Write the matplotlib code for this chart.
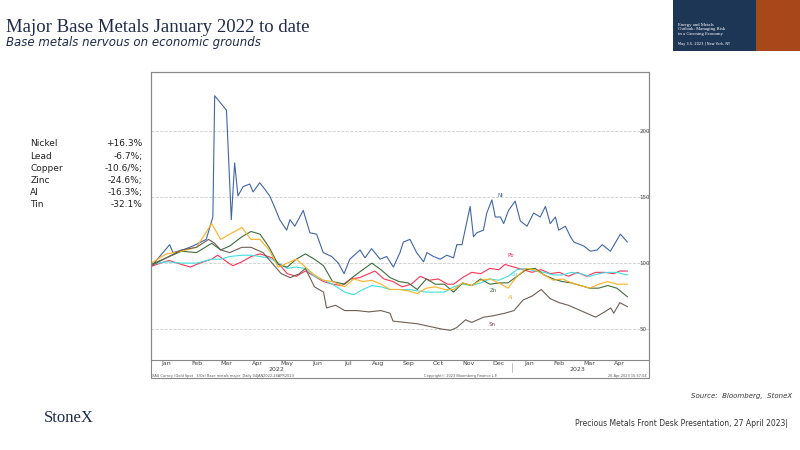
import matplotlib.pyplot as plt
import matplotlib.patches as patches

# x in months since 1 Jan 2022, values rebased to 100
ni_x = [0.0, 0.28, 0.61, 0.72, 1.05, 1.38, 1.82, 2.04, 2.10, 2.49, 2.65, 2.76, 2.87, 3.04, 3.26, 3.37,
        3.59, 3.76, 3.92, 4.09, 4.25, 4.48, 4.59, 4.75, 5.03, 5.25, 5.47, 5.69, 5.97, 6.19, 6.38, 6.57,
        6.91, 7.07, 7.29, 7.57, 7.79, 8.01, 8.23, 8.34, 8.56, 8.78, 9.01, 9.12, 9.34, 9.56, 9.78, 10.0,
        10.11, 10.28, 10.55, 10.66, 10.77, 10.99, 11.10, 11.27, 11.38, 11.55, 11.66, 11.82, 12.04, 12.21,
        12.43, 12.65, 12.87, 13.04, 13.20, 13.37, 13.48, 13.70, 13.87, 13.98, 14.31, 14.53, 14.75, 14.92,
        15.19, 15.52, 15.75]
ni_y = [97.5, 105, 114, 108, 110, 113, 118, 135, 227, 216, 133, 176, 151, 158, 160, 154,
        161, 156, 151, 142, 133, 125, 133, 128, 140, 123, 122, 108, 105, 100, 92, 103,
        110, 104, 111, 103, 105, 97, 108, 116, 118, 108, 101, 108, 105, 103, 106, 104,
        114, 114, 143, 120, 123, 125, 138, 148, 135, 135, 130, 140, 147, 132,
        128, 138, 135, 143, 130, 135, 125, 128, 120, 116, 113, 109, 110, 114,
        109, 122, 116]

pb_x = [0, 0.3, 0.6, 1.0, 1.3, 1.6, 2.0, 2.2, 2.5, 2.7, 3.0, 3.3, 3.6, 4.0, 4.2, 4.5, 4.8, 5.1, 5.4,
        5.7, 6.0, 6.3, 6.6, 6.9, 7.2, 7.4, 7.7, 8.0, 8.3, 8.6, 8.9, 9.2, 9.5, 9.8, 10.0, 10.3, 10.6,
        10.9, 11.2, 11.5, 11.7, 12.0, 12.3, 12.6, 12.9, 13.2, 13.5, 13.8, 14.1, 14.4, 14.7, 15.0, 15.3,
        15.5, 15.75]
pb_y = [97.5, 100, 102, 99, 97, 100, 103, 106, 101, 98, 101, 105, 107, 104, 100, 92, 90, 94, 90,
        86, 84, 83, 88, 89, 92, 94, 88, 86, 82, 84, 90, 87, 88, 84, 84, 89, 93,
        92, 96, 95, 99, 97, 95, 93, 95, 92, 93, 90, 93, 90, 93, 93, 92,
        94, 94]

std_x = [0, 0.5, 1.0, 1.5, 2.0, 2.3, 2.6, 3.0, 3.3, 3.6, 3.9, 4.2, 4.5, 4.8, 5.1, 5.4, 5.7, 6.0,
         6.4, 6.7, 7.0, 7.3, 7.6, 7.9, 8.2, 8.5, 8.8, 9.1, 9.4, 9.7, 10.0, 10.3, 10.6, 10.9, 11.2,
         11.5, 11.8, 12.1, 12.4, 12.7, 13.0, 13.3, 13.6, 13.9, 14.2, 14.5, 14.8, 15.1, 15.4, 15.75]
cu_y = [99, 101, 100, 100, 103, 103, 105, 106, 106, 105, 104, 100, 96, 97, 96, 90, 87, 84,
        78, 76, 80, 83, 82, 80, 80, 80, 79, 78, 78, 78, 82, 84, 83, 85, 88,
        87, 90, 95, 96, 94, 93, 91, 91, 93, 92, 90, 92, 93, 93, 91]
zn_y = [99, 104, 109, 108, 115, 110, 113, 120, 124, 122, 112, 99, 97, 103, 107, 103, 98, 86,
        84, 90, 95, 100, 95, 89, 86, 85, 80, 88, 84, 84, 78, 85, 83, 88, 84,
        85, 85, 90, 95, 96, 91, 88, 86, 85, 83, 81, 81, 83, 81, 74.5]
al_y = [100, 107, 109, 112, 130, 118, 122, 127, 118, 118, 110, 97, 100, 103, 97, 91, 87, 86,
        82, 88, 86, 87, 84, 80, 80, 79, 77, 81, 82, 80, 80, 85, 83, 87, 88,
        85, 81, 90, 96, 95, 91, 87, 88, 85, 83, 81, 84, 86, 84, 84]

sn_x = [0, 0.5, 1.0, 1.5, 1.9, 2.1, 2.3, 2.6, 3.0, 3.3, 3.7, 4.0, 4.3, 4.6, 4.9, 5.1, 5.4, 5.7, 5.8,
        6.1, 6.4, 6.8, 7.2, 7.6, 7.9, 8.0, 8.4, 8.8, 9.2, 9.6, 9.9, 10.1, 10.4, 10.6, 11.0, 11.3, 11.7,
        12.0, 12.3, 12.6, 12.9, 13.2, 13.5, 13.8, 14.1, 14.4, 14.7, 15.0, 15.2, 15.3, 15.5, 15.75]
sn_y = [98, 104, 110, 112, 118, 115, 110, 108, 112, 112, 108, 100, 92, 89, 92, 96, 82, 78, 66,
        68, 64, 64, 63, 64, 62, 56, 55, 54, 52, 50, 49, 51, 57, 55, 59, 60, 62,
        64, 72, 75, 80, 73, 70, 68, 65, 62, 59, 63, 66, 62, 70, 67]

months = ['Jan', 'Feb', 'Mar', 'Apr', 'May', 'Jun', 'Jul', 'Aug', 'Sep', 'Oct', 'Nov', 'Dec',
          'Jan', 'Feb', 'Mar', 'Apr']
perf_names = ['Nickel', 'Lead', 'Copper', 'Zinc', 'Al', 'Tin']
perf_vals = ['+16.3%', '-6.7%;', '-10.6/%;', '-24.6%;', '-16.3%;', '-32.1%']

fig = plt.figure(figsize=(8, 4.5), dpi=100)
fig.patch.set_facecolor('white')

# chart border incl. footer strip
fig.add_artist(patches.Rectangle((0.189, 0.16), 0.622, 0.68, transform=fig.transFigure,
                                 fill=False, edgecolor='#888888', lw=0.8))

ax = fig.add_axes([0.189, 0.2, 0.622, 0.64])
ax.plot(ni_x, ni_y, color='#3f66a8', lw=0.8)
ax.plot(pb_x, pb_y, color='#ff3355', lw=0.8)
ax.plot(std_x, cu_y, color='#40e0e0', lw=0.8)
ax.plot(std_x, zn_y, color='#3d6e3a', lw=0.8)
ax.plot(std_x, al_y, color='#ffb020', lw=0.8)
ax.plot(sn_x, sn_y, color='#6e5f55', lw=0.8)
ax.set_xlim(0, 16.46)
ax.set_ylim(26.5, 245)
for v in [50, 100, 150, 200]:
    ax.axhline(v, color='#cccccc', lw=0.6, ls='--', zorder=0)
    ax.text(16.15, v, str(v), fontsize=4, va='center', ha='left', color='#444444')
ax.set_yticks([])
ax.set_xticks([i + 0.5 for i in range(len(months))])
ax.set_xticklabels(months, fontsize=4.5, color='#444444')
ax.tick_params(axis='x', length=0, pad=1)
for s in ax.spines.values():
    s.set_color('#888888')
    s.set_linewidth(0.8)

for name, x, y, c in [('Ni', 11.45, 150, '#3f66a8'), ('Pb', 11.8, 105, '#ff3355'),
                      ('Cu', 11.9, 90, '#40e0e0'), ('Zn', 11.2, 78, '#3d6e3a'),
                      ('Al', 11.8, 72.5, '#ffb020'), ('Sn', 11.15, 52, '#8a4040')]:
    ax.text(x, y, name, fontsize=4, color=c)

fig.text(0.346, 0.175, '2022', fontsize=4.5, color='#444444', ha='center')
fig.text(0.722, 0.175, '2023', fontsize=4.5, color='#444444', ha='center')
fig.add_artist(plt.Line2D([0.64, 0.64], [0.174, 0.194], transform=fig.transFigure,
                          color='#aaaaaa', lw=0.5))
fig.text(0.19, 0.163, 'XAU Curncy (Gold Spot   $/Oz) Base metals major  Daily 04JAN2022-26APR2023',
         fontsize=2.5, color='#555555')
fig.text(0.53, 0.163, 'Copyright\u00a9 2023 Bloomberg Finance L.P.', fontsize=2.5, color='#555555')
fig.text(0.808, 0.163, '26-Apr-2023 15:57:04', fontsize=2.5, color='#555555', ha='right')

# title block
fig.text(0.008, 0.94, 'Major Base Metals January 2022 to date', fontsize=13.5, family='Liberation Serif',
         color='#1f2a4d', va='center')
fig.text(0.008, 0.905, 'Base metals nervous on economic grounds', fontsize=8.5, style='italic',
         color='#1f2a4d', va='center')

# performance list
for i, (n, v) in enumerate(zip(perf_names, perf_vals)):
    y = 0.68 - i * 0.027
    fig.text(0.038, y, n, fontsize=6.5, color='#222222', va='center')
    fig.text(0.178, y, v, fontsize=6.5, color='#222222', va='center', ha='right')

# banner top right
fig.add_artist(patches.Rectangle((0.841, 0.887), 0.159, 0.113, transform=fig.transFigure,
                                 facecolor='#1e3656', edgecolor='none'))
fig.add_artist(patches.Rectangle((0.945, 0.887), 0.055, 0.113, transform=fig.transFigure,
                                 facecolor='#a8481a', edgecolor='none'))
fig.text(0.848, 0.935, 'Energy and Metals\nOutlook: Managing Risk\nin a Greening Economy',
         fontsize=3.4, color='white', family='Liberation Serif', va='center', linespacing=1.2)
fig.text(0.848, 0.9, 'May 3-5, 2023 | New York, NY', fontsize=2.5, color='white')

fig.text(0.99, 0.115, 'Source:  Bloomberg,  StoneX', fontsize=5, style='italic', color='#333333', ha='right')
fig.text(0.055, 0.07, 'StoneX', fontsize=12, family='Liberation Serif', color='#1f2a4d', va='center')
fig.text(0.985, 0.058, 'Precious Metals Front Desk Presentation, 27 April 2023|', fontsize=5.5,
         color='#333333', ha='right', va='center')

fig.savefig('out.png', dpi=100)
